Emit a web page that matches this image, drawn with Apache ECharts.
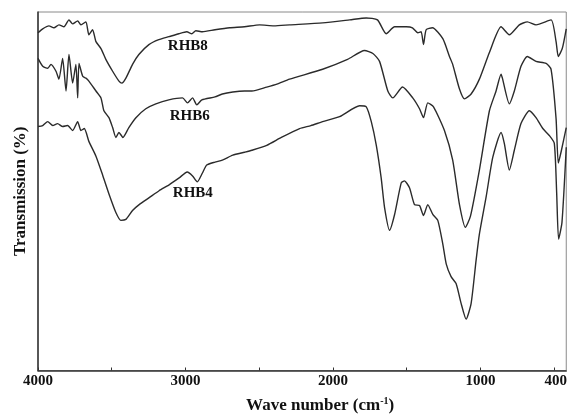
<!DOCTYPE html>
<html><head><meta charset="utf-8">
<script src="https://cdn.jsdelivr.net/npm/echarts@6/dist/echarts.min.js"></script>
<style>html,body{margin:0;padding:0;background:#fff}#c{width:570px;height:419px}</style>
</head><body><div id="c"></div>
<script>
// Wavenumber (cm-1) / transmission (arbitrary units) pairs
const rhb8 = [[4000,342],[3968,346],[3926,349],[3892,347],[3858,350],[3824,348],[3790,355],[3765,351],[3731,354],[3709,350],[3675,353],[3655,340],[3630,345],[3607,333],[3573,326],[3540,315],[3494,303],[3451,293],[3431,291],[3404,296],[3359,310],[3316,320],[3248,330],[3181,335],[3113,338],[3045,341],[2991,343],[2957,341],[2930,344],[2885,343],[2800,345],[2700,347],[2600,348],[2497,350],[2400,349],[2294,350],[2070,352],[1887,355],[1774,357],[1698,355],[1639,341],[1582,348],[1503,348],[1461,347],[1425,342],[1402,343],[1386,330],[1368,345],[1325,347],[1255,336],[1210,318],[1188,310],[1142,285],[1108,275],[1063,280],[1007,295],[939,322],[860,348],[804,340],[736,350],[682,353],[623,350],[521,355],[487,333],[472,318],[445,326],[418,346]];
const rhb6 = [[4000,316],[3968,308],[3934,306],[3912,310],[3878,303],[3858,295],[3833,316],[3810,283],[3790,320],[3765,291],[3743,310],[3731,276],[3722,311],[3697,298],[3675,296],[3655,293],[3607,283],[3573,276],[3553,263],[3519,256],[3494,246],[3472,236],[3451,241],[3424,236],[3384,246],[3336,256],[3269,265],[3201,270],[3113,274],[3020,276],[2986,271],[2952,276],[2923,269],[2889,274],[2800,277],[2750,280],[2679,282],[2600,283],[2550,283],[2449,287],[2380,290],[2294,295],[2070,305],[1901,315],[1786,324],[1729,321],[1684,313],[1628,283],[1594,276],[1528,287],[1459,276],[1413,265],[1386,256],[1357,271],[1318,267],[1244,243],[1188,213],[1142,168],[1102,145],[1068,156],[1007,203],[939,263],[894,283],[860,300],[851,296],[804,270],[770,283],[725,308],[682,318],[623,313],[555,311],[521,305],[487,255],[472,210],[452,222],[418,246]];
const rhb4 = [[4000,247],[3968,248],[3934,252],[3900,248],[3867,250],[3833,247],[3799,248],[3765,243],[3731,252],[3709,243],[3686,245],[3655,232],[3607,217],[3562,198],[3517,178],[3472,160],[3438,152],[3404,153],[3359,162],[3314,168],[3246,175],[3179,182],[3111,188],[3043,195],[2988,201],[2952,197],[2920,191],[2885,200],[2856,208],[2800,211],[2750,213],[2679,218],[2600,221],[2550,223],[2449,228],[2350,236],[2226,245],[2150,248],[2070,252],[1955,257],[1819,268],[1774,267],[1740,252],[1706,228],[1673,195],[1650,165],[1616,142],[1582,158],[1537,190],[1515,192],[1481,185],[1447,168],[1413,167],[1386,157],[1357,168],[1323,158],[1289,152],[1255,128],[1232,108],[1199,95],[1165,88],[1131,68],[1097,52],[1063,68],[1029,112],[1007,138],[961,176],[916,216],[860,241],[838,230],[804,203],[770,223],[725,250],[668,263],[623,256],[577,245],[533,238],[499,230],[483,180],[470,133],[447,150],[418,226]];
const seriesNames = ['RHB8','RHB6','RHB4'];
const labelPos = [[2984,328],[2971,258],[2950,180]];
const xTickValues = [4000,3500,3000,2500,2000,1500,1000,500];
const xLabelValues = [4000,3000,2000,1000,418];
const xLabelTexts = ['4000','3000','2000','1000','400'];
const xMin = 418, xMax = 4000, yMin = 0, yMax = 363;

const chart = echarts.init(document.getElementById('c'));
const serif = '"Liberation Serif","Times New Roman",serif';
const datasets = [rhb8, rhb6, rhb4];
chart.setOption({
  animation: false,
  grid: {left: 38, right: 3, top: 12, bottom: 44, show: true, borderColor: '#8a8a8a', borderWidth: 1},
  xAxis: {
    type: 'value', inverse: true, min: xMin, max: xMax,
    splitLine: {show: false},
    axisLine: {lineStyle: {color: '#333', width: 1.5}},
    axisTick: {customValues: xTickValues, inside: true, length: 3, lineStyle: {color: '#333'}},
    axisLabel: {
      customValues: xLabelValues, margin: 3,
      fontFamily: serif, fontWeight: 'bold', fontSize: 15, color: '#111',
      formatter: v => {
        const i = xLabelValues.indexOf(v);
        const t = i >= 0 ? xLabelTexts[i] : String(v);
        return v === xMin ? '{r|' + t + '}' : t;
      },
      rich: {r: {fontFamily: serif, fontWeight: 'bold', fontSize: 15, color: '#111', padding: [0, 21, 0, 0]}}
    },
    name: 'Wave number (cm{s|-1})', nameLocation: 'middle', nameGap: 26,
    nameTextStyle: {fontFamily: serif, fontWeight: 'bold', fontSize: 17, color: '#111', padding: [0, 0, 0, 36],
      rich: {s: {fontFamily: serif, fontWeight: 'bold', fontSize: 10, color: '#111', verticalAlign: 'top', padding: [0, 0, 8, 0]}}}
  },
  yAxis: {
    type: 'value', min: yMin, max: yMax,
    splitLine: {show: false},
    axisLine: {show: true, lineStyle: {color: '#333', width: 1.5}},
    axisTick: {show: false}, axisLabel: {show: false},
    name: 'Transmission (%)', nameLocation: 'middle', nameRotate: 90, nameGap: 9,
    nameTextStyle: {fontFamily: serif, fontWeight: 'bold', fontSize: 17, color: '#111'}
  },
  series: datasets.map((d, i) => ({
    type: 'line', name: seriesNames[i], data: d, showSymbol: false, clip: true, smooth: 0.2,
    lineStyle: {color: '#2b2b2b', width: 1.4},
    markPoint: {
      symbol: 'circle', symbolSize: 0,
      label: {show: true, position: 'inside', formatter: seriesNames[i], fontFamily: serif, fontWeight: 'bold', fontSize: 15, color: '#111'},
      data: [{coord: labelPos[i]}]
    }
  }))
});
</script></body></html>
